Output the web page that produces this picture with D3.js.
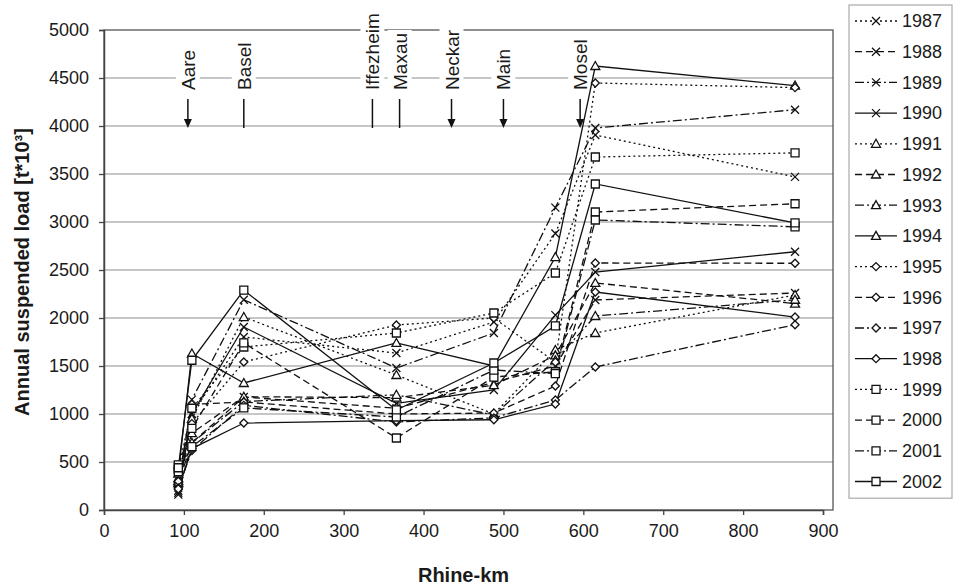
<!doctype html>
<html>
<head>
<meta charset="utf-8">
<style>
  body { margin: 0; background: #fff; }
  svg text { font-family: "Liberation Sans", Arial, sans-serif; fill: #1a1a1a; }
</style>
</head>
<body>
<svg width="956" height="585"></svg>
<script src="https://d3js.org/d3.v7.min.js"></script>
<script>
  // measuring stations along the Rhine (km)
  let stationKm = [93, 110, 175, 366, 488, 565, 615, 865];

  let years = ["1987", "1988", "1989", "1990", "1991", "1992", "1993", "1994",
               "1995", "1996", "1997", "1998", "1999", "2000", "2001", "2002"];

  // annual suspended load [t*10^3] per station
  let load1987 = [250, 1000, 1802, 1635, 1958, 2880, 3906, 3470];
  let load1988 = [160, 700, 1177, 1060, 1330, 1500, 2188, 2260];
  let load1989 = [200, 1150, 2190, 1479, 1844, 3150, 3979, 4170];
  let load1990 = [180, 1000, 1906, 1110, 1250, 2030, 2479, 2690];
  let load1991 = [330, 950, 2010, 1406, 1000, 1667, 1844, 2240];
  let load1992 = [300, 800, 1180, 1170, 1300, 1610, 2365, 2150];
  let load1993 = [280, 700, 1130, 1200, 990, 1560, 2021, 2190];
  let load1994 = [380, 1630, 1323, 1740, 1500, 2635, 4625, 4420];
  let load1995 = [270, 900, 1542, 1927, 2000, 1540, 4448, 4400];
  let load1996 = [300, 1100, 1125, 1000, 1010, 1292, 2573, 2570];
  let load1997 = [230, 620, 1090, 917, 960, 1146, 1490, 1930];
  let load1998 = [220, 640, 906, 930, 940, 1104, 2271, 2010];
  let load1999 = [420, 1060, 1698, 1844, 2052, 2469, 3677, 3720];
  let load2000 = [470, 850, 1740, 750, 1385, 1440, 3104, 3190];
  let load2001 = [400, 660, 1063, 969, 1458, 1420, 3021, 2950];
  let load2002 = [440, 1560, 2290, 1042, 1531, 1917, 3396, 2990];

  let loads = [load1987, load1988, load1989, load1990, load1991, load1992, load1993, load1994,
               load1995, load1996, load1997, load1998, load1999, load2000, load2001, load2002];

  // river labels at the top
  let labelNames = ["Aare", "Basel", "Iffezheim", "Maxau", "Neckar", "Main", "Mosel"];
  let labelKm = [105, 175, 336, 370, 435, 500, 596];
  let labelArrow = [true, false, false, false, true, true, true];

  let xTicks = [0, 100, 200, 300, 400, 500, 600, 700, 800, 900];
  let yTicks = [0, 500, 1000, 1500, 2000, 2500, 3000, 3500, 4000, 4500, 5000];

  let svg = d3.select("svg");
  let pLeft = 104, pRight = 833, pTop = 30, pBottom = 510;

  let x = d3.scaleLinear().domain([0, 900]).range([pLeft, 823]);
  let y = d3.scaleLinear().domain([0, 5000]).range([pBottom, pTop]);

  let dashes = ["2,3", "7,4", "9,3,2,3", null];
  let markers = [
    "M-4,-4L4,4M-4,4L4,-4",
    "M0,-4.5L4.5,3.5L-4.5,3.5Z",
    "M0,-4L4,0L0,4L-4,0Z",
    "M-4,-4H4V4H-4Z"
  ];

  // gridlines
  svg.append("g")
    .selectAll("line")
    .data(yTicks.slice(1, -1))
    .enter().append("line")
    .attr("x1", pLeft).attr("x2", pRight)
    .attr("y1", d => y(d)).attr("y2", d => y(d))
    .attr("stroke", "#b3b3b3")
    .attr("stroke-width", 1.6);

  // plot frame
  svg.append("rect")
    .attr("x", pLeft).attr("y", pTop)
    .attr("width", pRight - pLeft).attr("height", pBottom - pTop)
    .attr("fill", "none")
    .attr("stroke", "#555")
    .attr("stroke-width", 1.3);

  // axes
  let xAxis = svg.append("g")
    .attr("transform", "translate(0," + pBottom + ")")
    .call(d3.axisBottom(x).tickValues(xTicks).tickFormat(d3.format("d")).tickSize(5).tickPadding(9));
  let yAxis = svg.append("g")
    .attr("transform", "translate(" + pLeft + ",0)")
    .call(d3.axisLeft(y).tickValues(yTicks).tickFormat(d3.format("d")).tickSize(5).tickPadding(10));

  [xAxis, yAxis].forEach(a => {
    a.select(".domain").attr("stroke", "#444").attr("stroke-width", 1.5);
    a.selectAll(".tick line").attr("stroke", "#444").attr("stroke-width", 1.3);
    a.selectAll("text").attr("font-size", 18).attr("fill", "#1a1a1a")
      .attr("font-family", "Liberation Sans, Arial, sans-serif");
  });

  svg.append("text")
    .attr("x", (x(0) + x(900)) / 2).attr("y", 582)
    .attr("text-anchor", "middle")
    .attr("font-size", 20).attr("font-weight", "bold")
    .text("Rhine-km");

  svg.append("text")
    .attr("transform", "translate(29,272) rotate(-90)")
    .attr("text-anchor", "middle")
    .attr("font-size", 20).attr("font-weight", "bold")
    .text("Annual suspended load [t*10³]");

  // river labels
  let lab = svg.append("g").selectAll("g")
    .data(labelNames)
    .enter().append("g")
    .attr("transform", (d, i) => "translate(" + x(labelKm[i]) + ",0)");

  lab.each(function(d, i) {
    let g = d3.select(this);
    let bg = g.append("rect").attr("fill", "#fff");
    let t = g.append("text")
      .attr("transform", "translate(7,90) rotate(-90)")
      .attr("font-size", 19)
      .text(d);
    let w = t.node().getComputedTextLength();
    bg.attr("x", -12).attr("y", 90 - w - 3).attr("width", 24).attr("height", w + 6);
    g.append("line")
      .attr("x1", 0).attr("x2", 0)
      .attr("y1", 99).attr("y2", labelArrow[i] ? 121 : 128)
      .attr("stroke", "#111").attr("stroke-width", 1.5);
    if (labelArrow[i]) {
      g.append("path").attr("d", "M-4,119L4,119L0,128Z").attr("fill", "#111");
    }
  });

  // series lines
  let line = d3.line()
    .x((d, i) => x(stationKm[i]))
    .y(d => y(d));

  svg.append("g")
    .selectAll("path")
    .data(loads)
    .enter().append("path")
    .attr("d", line)
    .attr("fill", "none")
    .attr("stroke", "#111")
    .attr("stroke-width", 1.3)
    .attr("stroke-dasharray", (d, i) => dashes[i % 4]);

  // markers
  loads.forEach((vals, s) => {
    svg.append("g")
      .selectAll("path")
      .data(vals)
      .enter().append("path")
      .attr("transform", (d, i) => "translate(" + x(stationKm[i]) + "," + y(d) + ")")
      .attr("d", markers[Math.floor(s / 4)])
      .attr("fill", "#fff")
      .attr("stroke", "#111")
      .attr("stroke-width", 1.3);
  });

  // legend
  let legTop = 5, legStep = 30.7;
  svg.append("rect")
    .attr("x", 849).attr("y", legTop)
    .attr("width", 103).attr("height", legStep * 16 + 2)
    .attr("fill", "#fff")
    .attr("stroke", "#aaa")
    .attr("stroke-width", 1.2);

  let leg = svg.append("g").selectAll("g")
    .data(years)
    .enter().append("g")
    .attr("transform", (d, i) => "translate(0," + (legTop + 16 + i * legStep) + ")");

  leg.append("line")
    .attr("x1", 855).attr("x2", 897)
    .attr("stroke", "#111").attr("stroke-width", 1.3)
    .attr("stroke-dasharray", (d, i) => dashes[i % 4]);
  leg.append("path")
    .attr("transform", "translate(876,0)")
    .attr("d", (d, i) => markers[Math.floor(i / 4)])
    .attr("fill", "#fff").attr("stroke", "#111").attr("stroke-width", 1.3);
  leg.append("text")
    .attr("x", 902).attr("dy", "0.35em")
    .attr("font-size", 18)
    .text(d => d);
</script>
</body>
</html>
